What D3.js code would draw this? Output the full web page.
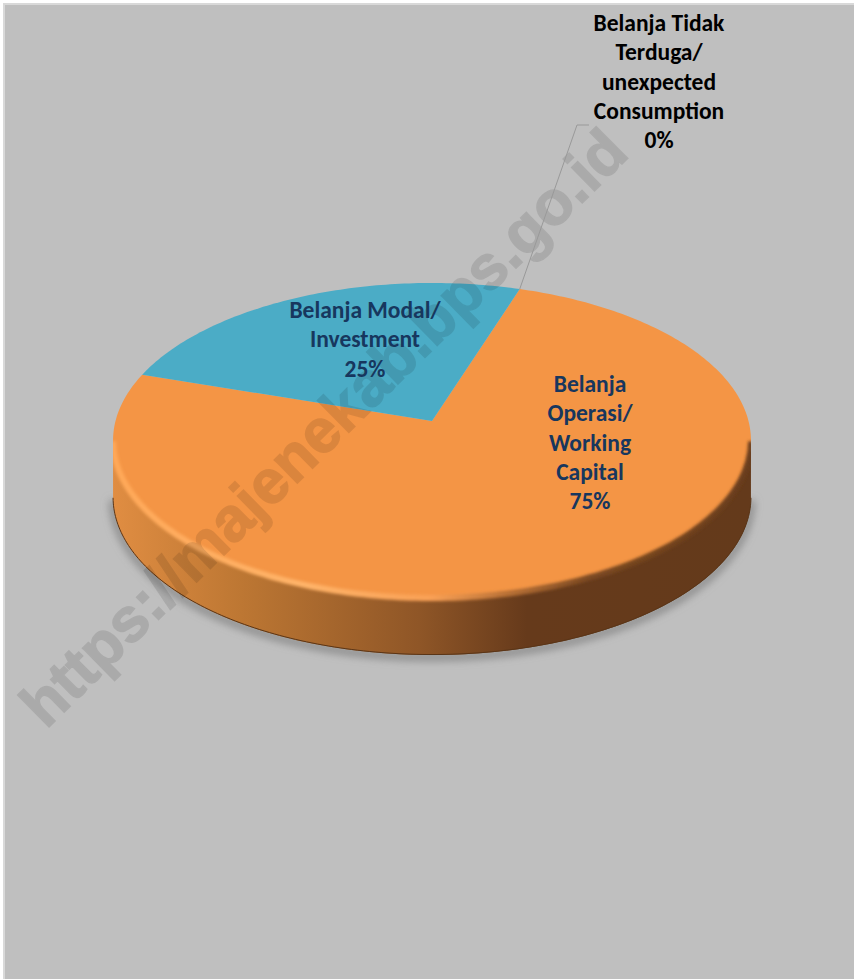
<!DOCTYPE html>
<html><head><meta charset="utf-8">
<script src="https://cdn.jsdelivr.net/npm/d3@7"></script>
<style>html,body{margin:0;padding:0;background:#fff}svg{display:block}text{font-family:Carlito,"Open Sans","Noto Sans",sans-serif}</style>
</head><body><div id="c"></div>
<script>
const categories=["Belanja Operasi/ Working Capital","Belanja Modal/ Investment","Belanja Tidak Terduga/ unexpected Consumption"];
const values=[75,25,0];
const percentLabels=["75%","25%","0%"];
const labelLines=[["Belanja","Operasi/","Working","Capital","75%"],["Belanja Modal/","Investment","25%"],["Belanja Tidak","Terduga/","unexpected","Consumption","0%"]];
const colors=["#f49545","#4bacc6","#9bbb59"];
const watermark="https://majenekab.bps.go.id";
const W=854,H=979;
const svg=d3.select("#c").append("svg").attr("width",W).attr("height",H);
const defs=svg.append("defs");
const grad=(id,stops)=>{const g=defs.append("linearGradient").attr("id",id).attr("gradientUnits","userSpaceOnUse").attr("x1",113).attr("x2",750).attr("y1",0).attr("y2",0);
  stops.forEach(d=>g.append("stop").attr("offset",d[0]).attr("stop-color",d[1]));};
grad("side",[[0,"#e08d42"],[0.2,"#bd7733"],[0.48,"#8f5627"],[0.65,"#663a1b"],[1,"#643a1b"]]);
grad("bevel",[[0,"#ffa858"],[0.3,"#ffb368"],[0.5,"#f9a055"],[0.62,"#b87035"],[0.75,"#7a4820"],[1,"#6a3d1c"]]);
const blurF=(id,s)=>defs.append("filter").attr("id",id).attr("x","-20%").attr("y","-20%").attr("width","140%").attr("height","140%").append("feGaussianBlur").attr("stdDeviation",s);
blurF("b",4);blurF("b2",1.6);
svg.append("rect").attr("x",0).attr("y",0).attr("width",W).attr("height",H).attr("fill","#fff");
svg.append("rect").attr("x",3).attr("y",3).attr("width",W-3).attr("height",H-3).attr("fill","#d9d9d9");
svg.append("rect").attr("x",5).attr("y",5).attr("width",W-5).attr("height",H-5).attr("fill","#bfbfbf");

const cx=432,apexY=421,persp=-0.1238,yGain=103,xGain=316.5,depth=57;
const project=(u,v)=>{const w=1+persp*v;return [cx+xGain*u/w,(yGain*v+apexY)/w];};
const polar=a=>project(Math.sin(a),-Math.cos(a));
const line=d3.line();
const pie=d3.pie().sort(null).value(d=>d).startAngle(0.315).endAngle(0.315+2*Math.PI);
const arcs=pie(values);
const rimPoints=(a0,a1)=>{const n=Math.max(2,Math.ceil(Math.abs(a1-a0)*60));return d3.range(n+1).map(i=>polar(a0+(a1-a0)*i/n));};
const lowerRim=()=>{const pts=rimPoints(0,2*Math.PI);
  const left=d3.minIndex(pts,p=>p[0]),right=d3.maxIndex(pts,p=>p[0]);return pts.slice(right,left+1);};
const front=lowerRim();
const down=d=>front.map(p=>[p[0],p[1]+d]);
const wall=front.concat(down(depth).reverse());
const clip=defs.append("clipPath").attr("id","solid");
clip.append("path").attr("d",line(wall)+"Z");
clip.append("path").attr("d",line(rimPoints(0,2*Math.PI))+"Z");
svg.append("path").attr("d",line(down(depth+2))).attr("fill","none").attr("stroke","#7d7d7d").attr("stroke-width",6).attr("filter","url(#b)");
svg.append("path").attr("d",line(wall)+"Z").attr("fill","url(#side)");
svg.append("path").attr("d",line(down(depth-0.5))).attr("fill","none").attr("stroke","#5a3517").attr("stroke-width",1);
svg.append("g").selectAll("path").data(arcs.filter(d=>d.endAngle>d.startAngle)).join("path")
  .attr("d",d=>line([project(0,0),...rimPoints(d.startAngle,d.endAngle)])+"Z").attr("fill",d=>colors[d.index]);
svg.append("g").attr("clip-path","url(#solid)").append("path").attr("d",line(front)).attr("fill","none").attr("stroke","url(#bevel)").attr("stroke-width",6).attr("filter","url(#b2)");
svg.append("text").attr("transform","translate(327,431) rotate(-44.5)").attr("text-anchor","middle").attr("dominant-baseline","middle")
 .style("font-family","'Liberation Sans',Arial,sans-serif").attr("font-size",62).attr("font-weight",700).attr("fill","#000").attr("stroke","#000").attr("stroke-width",1.5).attr("opacity",.1).text(watermark);
const z=polar(arcs[2].startAngle);
svg.append("path").attr("d",line([z,[577,125],[589,125]])).attr("fill","none").attr("stroke","#999").attr("stroke-width",1);
const anchors=[[590,385,"#17375e"],[365,311,"#17375e"],[659,24,"#000"]];
labelLines.forEach((l,i)=>{
 const t=svg.append("text").attr("text-anchor","middle").attr("font-size",23.5).attr("font-weight",700).attr("fill",anchors[i][2]);
 l.forEach((s,j)=>t.append("tspan").attr("x",anchors[i][0]).attr("y",anchors[i][1]+j*29.3+7).text(s));
});
</script></body></html>
